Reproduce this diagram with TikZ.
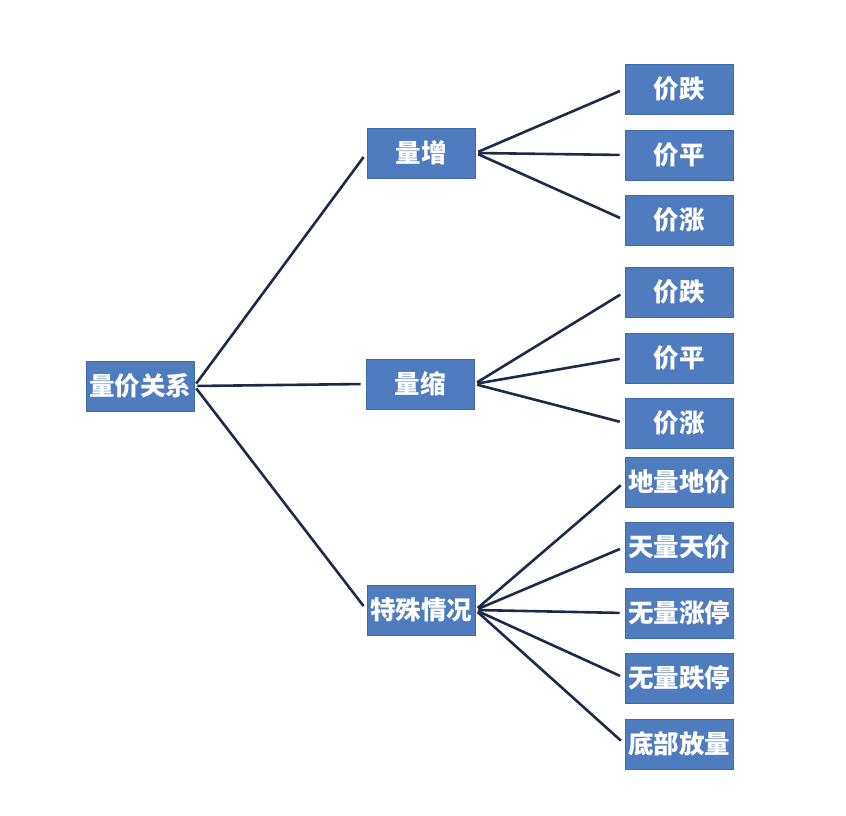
\documentclass[tikz,border=0pt]{standalone}
\usepackage{fontspec}
\setmainfont{Noto Sans CJK SC}
\usepackage{tikz}
\usetikzlibrary{positioning}
\definecolor{boxblue}{HTML}{4E7CBE}
\definecolor{boxedge}{HTML}{3E6AA8}
\definecolor{linknavy}{HTML}{1C2B4A}

\begin{document}
\begin{tikzpicture}[x=1pt,y=-1pt,every node/.style={rectangle, fill=boxblue, draw=boxedge, line width=0.8pt, text=white, font=\fontsize{25.5}{25.5}\selectfont\bfseries, minimum width=108pt, minimum height=50pt, inner sep=0pt},link/.style={draw=linknavy, line width=2.6pt, shorten <=3pt, shorten >=5pt}]
  \useasboundingbox (0,0) rectangle (846,816);
  \node (root) at (140,386) {量价关系};
  \node (zeng) at (421,153) {量增};
  \node (suo) at (420,384) {量缩};
  \node (teshu) at (421,610) {特殊情况};
  \node (zeng1) at (679,89) {价跌};
  \node (zeng2) at (679,155) {价平};
  \node (zeng3) at (679,220) {价涨};
  \node (suo1) at (679,292) {价跌};
  \node (suo2) at (679,358) {价平};
  \node (suo3) at (679,423) {价涨};
  \node (teshu1) at (679,482) {地量地价};
  \node (teshu2) at (679,547) {天量天价};
  \node (teshu3) at (679,613) {无量涨停};
  \node (teshu4) at (679,678) {无量跌停};
  \node (teshu5) at (679,744) {底部放量};
  \draw[link] (root.east) -- (zeng.west);
  \draw[link] (root.east) -- (suo.west);
  \draw[link] (root.east) -- (teshu.west);
  \draw[link] (zeng.east) -- (zeng1.west);
  \draw[link] (zeng.east) -- (zeng2.west);
  \draw[link] (zeng.east) -- (zeng3.west);
  \draw[link] (suo.east) -- (suo1.west);
  \draw[link] (suo.east) -- (suo2.west);
  \draw[link] (suo.east) -- (suo3.west);
  \draw[link] (teshu.east) -- (teshu1.west);
  \draw[link] (teshu.east) -- (teshu2.west);
  \draw[link] (teshu.east) -- (teshu3.west);
  \draw[link] (teshu.east) -- (teshu4.west);
  \draw[link] (teshu.east) -- (teshu5.west);
\end{tikzpicture}
\end{document}
